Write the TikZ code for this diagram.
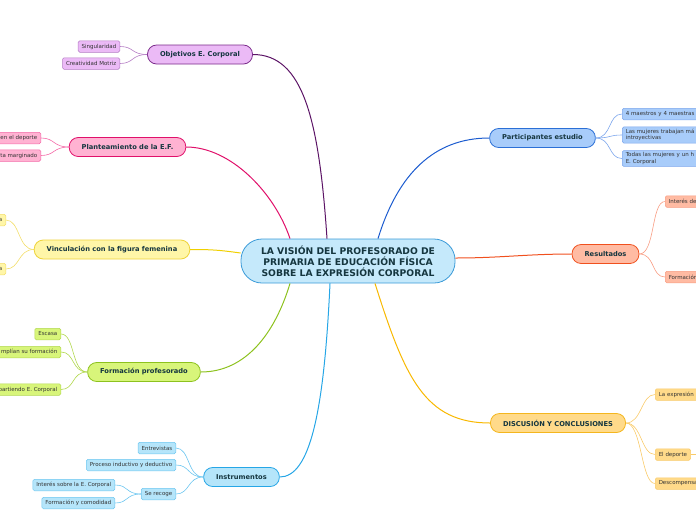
\documentclass[tikz,border=0pt]{standalone}
\usepackage{fontspec}
\setmainfont{DejaVu Sans}
\usetikzlibrary{positioning}
\definecolor{ink}{HTML}{15363F}
\definecolor{leafink}{HTML}{333333}
\definecolor{hubF}{HTML}{C5E9FB}
\definecolor{hubB}{HTML}{3B9BD8}
\definecolor{purF}{HTML}{EBBAF6}
\definecolor{purB}{HTML}{7A2A8A}
\definecolor{purL}{HTML}{5C1466}
\definecolor{purS}{HTML}{B47CC4}
\definecolor{pinF}{HTML}{FFB2D2}
\definecolor{pinB}{HTML}{E0106A}
\definecolor{pinS}{HTML}{F46AA8}
\definecolor{yelF}{HTML}{FFF6A8}
\definecolor{yelB}{HTML}{EED33A}
\definecolor{yelL}{HTML}{F0D000}
\definecolor{yelS}{HTML}{F3DE6A}
\definecolor{greF}{HTML}{D8F57A}
\definecolor{greB}{HTML}{8DC21F}
\definecolor{greS}{HTML}{B2D850}
\definecolor{cyaF}{HTML}{B5E5FA}
\definecolor{cyaB}{HTML}{26A6E6}
\definecolor{cyaS}{HTML}{6CC6F0}
\definecolor{bluF}{HTML}{A8CCFA}
\definecolor{bluB}{HTML}{2B6FD6}
\definecolor{bluL}{HTML}{1C5CCF}
\definecolor{bluS}{HTML}{7BA5EC}
\definecolor{oraF}{HTML}{FFBBA3}
\definecolor{oraB}{HTML}{F0501E}
\definecolor{oraS}{HTML}{F89C82}
\definecolor{golF}{HTML}{FFDA8A}
\definecolor{golB}{HTML}{F4B61E}
\definecolor{golL}{HTML}{F8B800}
\definecolor{golS}{HTML}{F9CB6A}

\begin{document}
\begin{tikzpicture}[x=1pt,y=-1pt,
  hub/.style={draw=hubB,fill=hubF,line width=0.8pt,rounded corners=21pt,minimum width=214pt,minimum height=44pt,align=center,font=\fontsize{9.2}{11}\selectfont\bfseries,text=ink},
  topic/.style={line width=0.8pt,rounded corners=9pt,minimum height=19pt,inner xsep=12.5pt,font=\fontsize{6.7}{8}\selectfont\bfseries,text=ink},
  leaf/.style={line width=0.5pt,rounded corners=1.5pt,minimum height=11.5pt,inner xsep=3.5pt,inner ysep=2pt,font=\fontsize{5.5}{6.6}\selectfont,text=leafink},
  link/.style={line width=1pt},
  sublink/.style={line width=0.6pt}]
  \useasboundingbox (0,0) rectangle (696,520);
  \clip (0,0) rectangle (696,520);

  \node[hub] (hub) at (348,261) {LA VISIÓN DEL PROFESORADO DE\\PRIMARIA DE EDUCACIÓN FÍSICA\\SOBRE LA EXPRESIÓN CORPORAL};

  % ramas de la izquierda
  \node[topic,draw=purB,fill=purF] (obj) at (200,54.5) {Objetivos E. Corporal};
  \node[leaf,draw=purS,fill=purF,anchor=east] (sing) at (120,46.5) {Singularidad};
  \node[leaf,draw=purS,fill=purF,anchor=east] (crea) at (120,63.5) {Creatividad Motriz};

  \node[topic,draw=pinB,fill=pinF] (plan) at (127.5,147) {Planteamiento de la E.F.};
  \node[leaf,draw=pinS,fill=pinF,anchor=east] (depo) at (41,138) {en el deporte};
  \node[leaf,draw=pinS,fill=pinF,anchor=east] (marg) at (41,155.5) {ta marginado};

  \node[topic,draw=yelB,fill=yelF] (vinc) at (112,249.5) {Vinculación con la figura femenina};
  \node[leaf,draw=yelS,fill=yelF,anchor=east] (vina) at (6,220) {a};
  \node[leaf,draw=yelS,fill=yelF,anchor=east] (vinb) at (6,269) {a};

  \node[topic,draw=greB,fill=greF] (form) at (144,372) {Formación profesorado};
  \node[leaf,draw=greS,fill=greF,anchor=east] (esca) at (61,334) {Escasa};
  \node[leaf,draw=greS,fill=greF,anchor=east] (ampl) at (61,352) {mplían su formación};
  \node[leaf,draw=greS,fill=greF,anchor=east] (part) at (61,389.5) {partiendo E. Corporal};

  \node[topic,draw=cyaB,fill=cyaF] (inst) at (241.5,477) {Instrumentos};
  \node[leaf,draw=cyaS,fill=cyaF,anchor=east] (entr) at (176,448) {Entrevistas};
  \node[leaf,draw=cyaS,fill=cyaF,anchor=east] (proc) at (176,465) {Proceso inductivo y deductivo};
  \node[leaf,draw=cyaS,fill=cyaF,anchor=east] (reco) at (176,494) {Se recoge};
  \node[leaf,draw=cyaS,fill=cyaF,anchor=east] (inte) at (115,485) {Interés sobre la E. Corporal};
  \node[leaf,draw=cyaS,fill=cyaF,anchor=east] (como) at (115,503) {Formación y comodidad};

  % ramas de la derecha
  \node[topic,draw=bluB,fill=bluF] (estu) at (542.5,138) {Participantes estudio};
  \node[leaf,draw=bluS,fill=bluF,anchor=west,text width=82pt,align=left] (maes) at (622,114) {4 maestros y 4 maestras};
  \node[leaf,draw=bluS,fill=bluF,anchor=west,text width=82pt,align=left] (muje) at (622,135) {Las mujeres trabajan má\\introyectivas};
  \node[leaf,draw=bluS,fill=bluF,anchor=west,text width=82pt,align=left] (toda) at (622,158.5) {Todas las mujeres y un h\\E. Corporal};

  \node[topic,draw=oraB,fill=oraF] (resu) at (605.5,254) {Resultados};
  \node[leaf,draw=oraS,fill=oraF,anchor=west,text width=42pt,align=left] (inde) at (665,201.5) {Interés de};
  \node[leaf,draw=oraS,fill=oraF,anchor=west,text width=42pt,align=left] (rfor) at (665,277) {Formación};

  \node[topic,draw=golB,fill=golF] (disc) at (558,423) {DISCUSIÓN Y CONCLUSIONES};
  \node[leaf,draw=golS,fill=golF,anchor=west,text width=50pt,align=left] (expr) at (655,394.5) {La expresión};
  \node[leaf,draw=golS,fill=golF,anchor=west] (eldp) at (655,454.5) {El deporte};
  \node[leaf,draw=golS,fill=golF,anchor=west,text width=50pt,align=left] (desc) at (655,483.5) {Descompensa};
  \coordinate (eldpx) at (700,454.5);

  % conexiones principales
  \draw[link,purL] ([xshift=-21pt]hub.north) .. controls +(-8,-120) and +(50,0) .. (obj.east);
  \draw[link,pinB] ([xshift=-58pt]hub.north) .. controls +(-15,-45) and +(45,0) .. (plan.east);
  \draw[link,yelL] ([yshift=8pt]hub.west) .. controls +(-22,-3) and +(22,0) .. (vinc.east);
  \draw[link,greB] ([xshift=-58pt]hub.south) .. controls +(-15,50) and +(45,0) .. (form.east);
  \draw[link,cyaB] ([xshift=-18pt]hub.south) .. controls +(-6,130) and +(30,0) .. (inst.east);
  \draw[link,bluL] ([xshift=30pt]hub.north) .. controls +(20,-65) and +(-55,0) .. (estu.west);
  \draw[link,oraB] ([yshift=3pt]hub.east) .. controls +(45,0) and +(-45,0) .. (resu.west);
  \draw[link,golL] ([xshift=27pt]hub.south) .. controls +(30,95) and +(-65,0) .. (disc.west);

  % conexiones secundarias
  \foreach \n in {sing,crea} \draw[sublink,purS] (obj.west) .. controls +(-16,0) and +(14,0) .. (\n.east);
  \foreach \n in {depo,marg} \draw[sublink,pinS] (plan.west) .. controls +(-16,0) and +(14,0) .. (\n.east);
  \foreach \n in {vina,vinb} \draw[sublink,yelS] (vinc.west) .. controls +(-16,0) and +(14,0) .. (\n.east);
  \foreach \n in {esca,ampl,part} \draw[sublink,greS] (form.west) .. controls +(-16,0) and +(14,0) .. (\n.east);
  \foreach \n in {entr,proc,reco} \draw[sublink,cyaS] (inst.west) .. controls +(-16,0) and +(14,0) .. (\n.east);
  \foreach \n in {inte,como} \draw[sublink,cyaS] (reco.west) .. controls +(-16,0) and +(14,0) .. (\n.east);
  \foreach \n in {maes,muje,toda} \draw[sublink,bluS] (estu.east) .. controls +(16,0) and +(-14,0) .. (\n.west);
  \foreach \n in {inde,rfor} \draw[sublink,oraS] (resu.east) .. controls +(16,0) and +(-14,0) .. (\n.west);
  \foreach \n in {expr,eldp,desc} \draw[sublink,golS] (disc.east) .. controls +(16,0) and +(-14,0) .. (\n.west);
  \draw[sublink,golS] (eldp.east) -- (eldpx);
\end{tikzpicture}
\end{document}
